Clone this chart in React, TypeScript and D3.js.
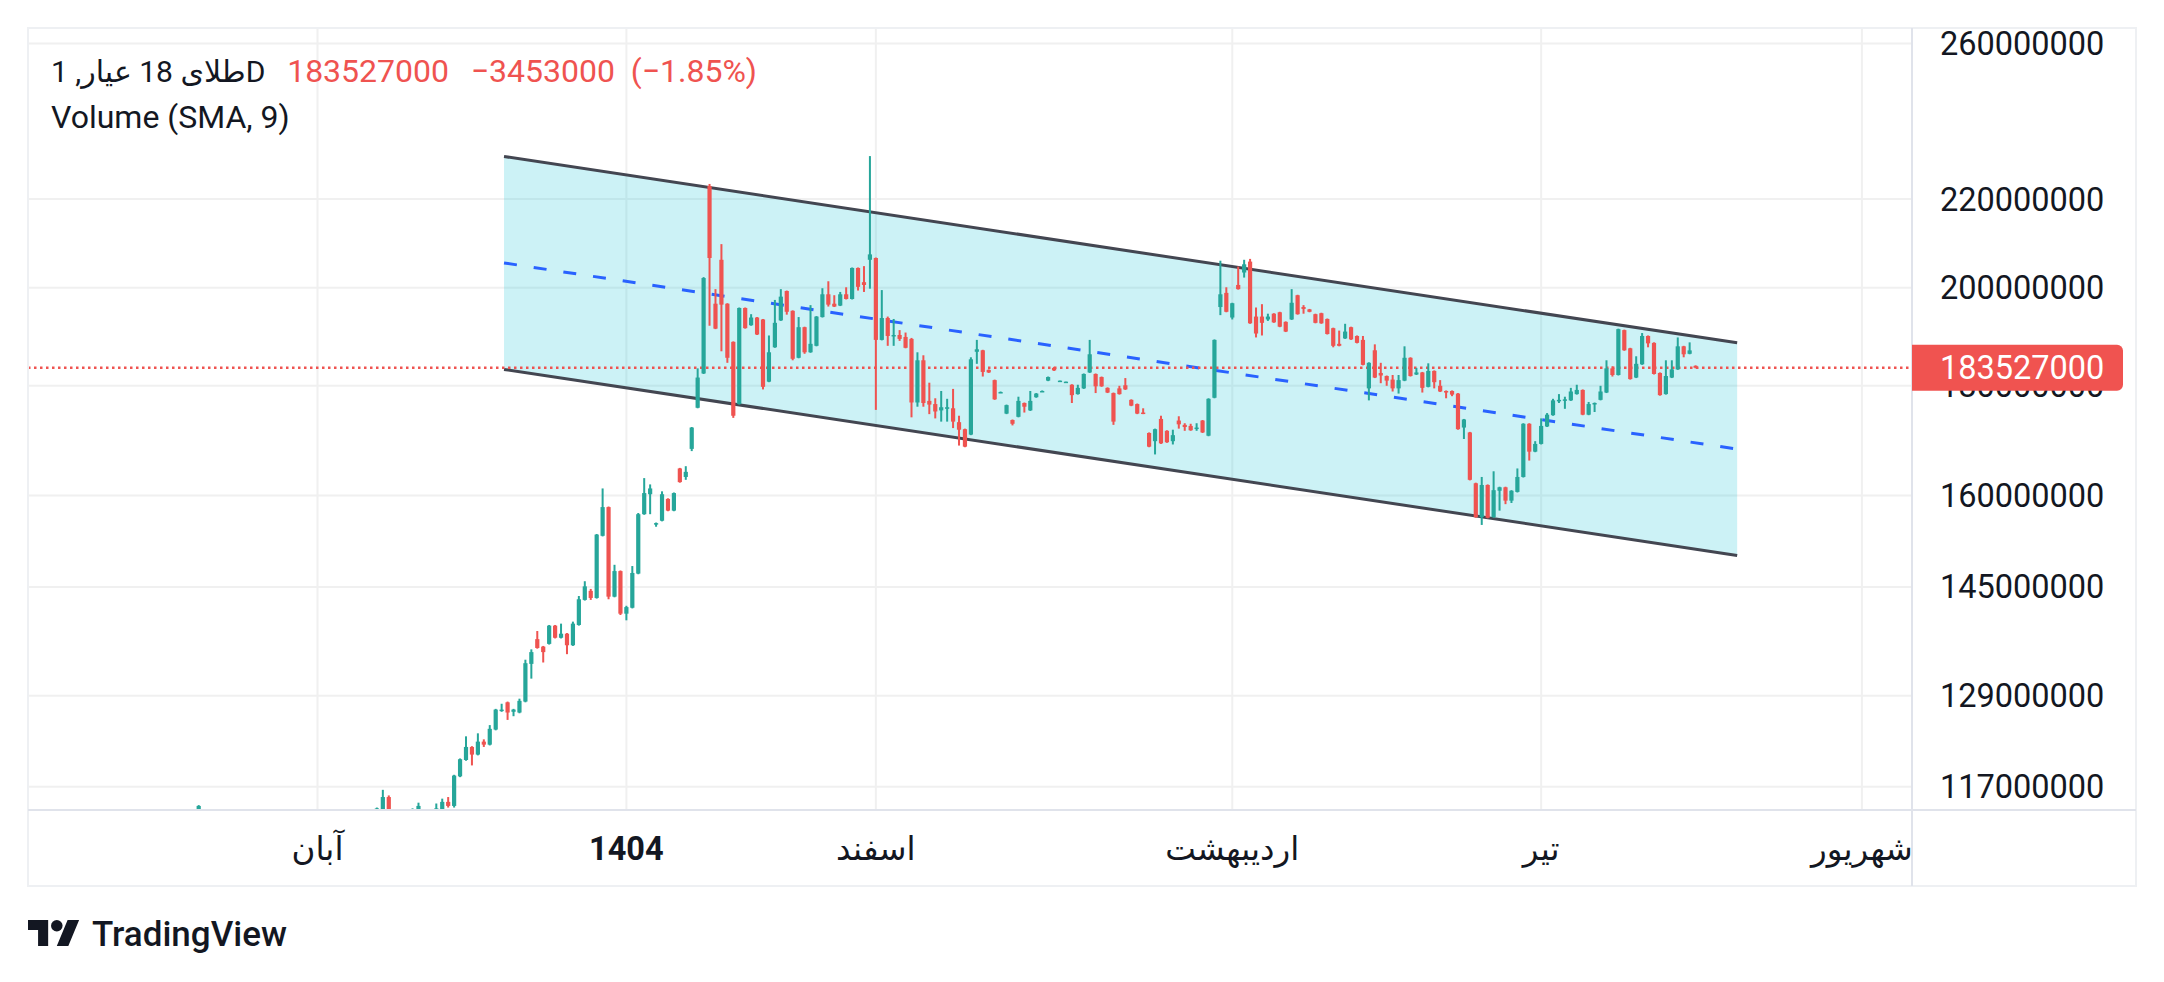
import * as d3 from 'd3';

const _ = null;

// daily bars, prices in millions of rials; "_" = bar lies wholly below the visible range
const open = [
  113.0, _, _, _, _, _, _, _, _, _,
  _, _, _, _, _, _, _, _, _, _,
  _, _, _, _, _, _, _, _, _, _,
  113.5, 113.8, 115.7, _, _, _, 113.8, 113.9, _, _,
  113.9, 113.9, 115.1, 114.6, 118.3, 120.4, 122.1, 121.1, 122.8, 122.4,
  124.4, 126.9, 128.1, 126.8, 126.7, 128.2, 133.5, 137.1, 136.0, 136.4,
  139.1, 137.3, 137.9, 136.2, 139.2, 143.0, 144.4, 143.3, 153.2, 158.0,
  143.5, 147.5, 140.9, 141.8, 147.1, 156.8, 160.2, 155.2, 155.7, 159.4,
  157.4, 164.7, 163.2, 168.2, 175.8, 182.4, 223.1, 196.6, 206.1, 196.6,
  188.7, 176.5, 195.7, 192.1, 193.7, 193.3, 180.8, 187.6, 193.1, 199.3,
  195.1, 185.5, 191.7, 186.6, 187.9, 193.8, 198.6, 196.6, 196.2, 198.6,
  197.6, 204.3, 201.2, 206.1, 206.5, 189.1, 193.6, 189.9, 190.1, 189.7,
  189.3, 176.8, 185.0, 177.1, 176.5, 175.3, 175.6, 175.7, 173.1, 171.8,
  170.8, 186.7, 187.0, 183.1, 181.1, 178.7, 174.7, 173.5, 174.1, 176.7,
  175.3, 177.8, 178.9, 181.0, 183.5, 180.9, 180.7, 180.2, 178.4, 179.5,
  182.6, 182.3, 181.7, 179.6, 178.6, 179.5, 180.1, 177.3, 176.5, 174.9,
  171.1, 169.6, 173.7, 171.5, 169.6, 173.4, 172.6, 172.4, 171.9, 173.4,
  170.6, 177.7, 195.9, 198.9, 193.7, 200.6, 203.3, 205.7, 193.9, 193.9,
  193.3, 194.5, 194.8, 192.8, 193.3, 198.4, 195.9, 195.4, 194.4, 194.6,
  193.4, 191.5, 188.3, 189.4, 191.7, 189.9, 189.1, 179.5, 187.0, 182.5,
  181.9, 181.2, 179.5, 181.0, 185.5, 182.2, 182.6, 179.8, 182.9, 180.0,
  179.0, 179.0, 178.5, 172.1, 171.2, 162.1, 156.3, 161.8, 156.3, 160.8,
  161.4, 159.1, 160.6, 163.2, 172.8, 167.7, 169.1, 172.3, 174.4, 177.2,
  177.3, 177.2, 178.4, 179.2, 174.5, 176.5, 177.3, 178.7, 183.4, 182.1,
  191.1, 187.4, 181.6, 184.2, 189.9, 188.5, 182.5, 178.4, 181.6, 183.2,
  187.8, 186.3, 183.9,
];
const high = [
  114.7, _, _, _, _, _, _, _, _, _,
  _, _, _, _, _, _, _, _, _, _,
  _, _, _, _, _, _, _, _, _, _,
  114.4, 116.6, 115.9, _, _, _, 114.3, 115.0, _, _,
  114.9, 115.5, 115.7, 118.5, 120.6, 123.5, 122.2, 123.9, 123.1, 125.0,
  127.2, 127.9, 128.2, 127.2, 128.6, 134.1, 135.6, 138.3, 136.1, 139.2,
  139.2, 139.4, 138.0, 139.7, 143.6, 145.9, 144.7, 153.5, 161.2, 158.1,
  148.5, 147.6, 142.1, 148.3, 157.0, 163.0, 161.9, 155.4, 160.7, 159.5,
  160.5, 164.8, 165.1, 172.2, 183.4, 202.3, 223.6, 199.7, 209.6, 196.7,
  188.8, 195.8, 195.8, 194.4, 193.8, 193.4, 190.0, 197.4, 199.7, 199.4,
  195.2, 193.8, 191.8, 196.3, 194.0, 199.9, 201.4, 198.4, 199.1, 200.1,
  204.4, 204.4, 204.7, 230.4, 206.6, 199.5, 193.9, 193.4, 191.1, 190.6,
  189.5, 186.6, 186.0, 180.6, 177.6, 179.0, 177.5, 179.4, 174.3, 171.9,
  185.6, 189.1, 187.1, 183.2, 181.2, 178.9, 176.4, 173.6, 177.9, 176.8,
  179.0, 178.6, 179.1, 181.8, 183.7, 181.0, 180.8, 180.3, 180.2, 182.4,
  189.1, 182.4, 181.8, 179.7, 178.7, 180.0, 181.5, 177.4, 176.6, 175.7,
  171.2, 171.9, 174.3, 171.6, 171.7, 174.2, 172.9, 172.8, 172.9, 173.5,
  177.6, 189.2, 205.9, 200.1, 196.8, 204.6, 206.1, 206.3, 195.8, 196.5,
  194.5, 194.6, 194.9, 192.9, 199.7, 198.5, 196.3, 195.5, 194.5, 194.7,
  193.5, 191.6, 191.0, 192.4, 191.8, 190.0, 189.9, 184.6, 188.2, 184.5,
  182.0, 182.1, 182.1, 187.8, 185.6, 183.5, 182.7, 184.4, 183.0, 181.1,
  179.1, 179.1, 178.6, 173.7, 171.3, 162.2, 163.2, 161.9, 164.2, 161.5,
  161.5, 160.9, 164.7, 172.9, 172.9, 169.6, 173.8, 174.8, 177.5, 178.4,
  177.9, 179.6, 180.2, 179.3, 176.9, 176.8, 180.0, 185.0, 183.8, 191.4,
  191.2, 187.5, 185.8, 190.5, 190.0, 188.6, 182.6, 185.0, 185.0, 189.6,
  187.9, 188.6, 184.0,
];
const low = [
  112.5, _, _, _, _, _, _, _, _, _,
  _, _, _, _, _, _, _, _, _, _,
  _, _, _, _, _, _, _, _, _, _,
  113.2, 113.5, 113.0, _, _, _, 113.5, 113.6, _, _,
  113.7, 113.7, 114.4, 114.4, 118.2, 120.3, 119.7, 121.0, 122.1, 122.3,
  124.3, 126.8, 125.7, 126.2, 126.6, 128.1, 131.4, 135.7, 133.7, 136.3,
  137.2, 137.2, 134.9, 136.1, 139.1, 142.9, 143.0, 143.2, 153.1, 143.1,
  143.4, 140.7, 139.9, 141.7, 147.0, 156.7, 156.8, 154.7, 155.6, 157.3,
  157.3, 162.2, 162.7, 167.8, 175.7, 182.3, 192.0, 191.3, 186.8, 184.5,
  173.9, 176.4, 191.4, 192.0, 190.1, 179.3, 180.7, 187.5, 193.0, 194.3,
  185.0, 185.4, 186.3, 186.5, 187.8, 193.7, 196.0, 195.9, 196.1, 197.5,
  197.5, 199.4, 199.1, 199.8, 175.4, 189.0, 187.9, 187.9, 188.9, 187.4,
  174.0, 176.0, 176.0, 174.6, 173.8, 173.2, 173.2, 172.0, 168.8, 168.5,
  170.7, 184.3, 181.8, 182.5, 177.3, 178.6, 174.6, 172.5, 174.0, 174.9,
  175.2, 177.7, 178.8, 180.9, 182.9, 180.9, 180.7, 176.7, 178.3, 179.4,
  182.5, 178.6, 179.8, 178.6, 172.6, 178.3, 179.2, 176.1, 174.6, 174.6,
  168.5, 167.2, 169.1, 169.3, 169.0, 171.9, 171.5, 171.5, 171.5, 171.1,
  170.5, 177.6, 194.2, 194.8, 193.3, 199.6, 202.2, 192.4, 189.6, 190.0,
  193.0, 192.6, 191.7, 190.7, 193.2, 194.3, 194.5, 194.8, 192.5, 192.4,
  190.2, 187.6, 187.8, 189.3, 189.1, 188.4, 184.0, 177.2, 181.5, 180.5,
  180.0, 178.9, 178.5, 180.9, 181.8, 182.1, 178.7, 179.7, 179.5, 178.8,
  177.6, 178.0, 171.7, 170.0, 162.6, 156.2, 155.0, 156.1, 156.2, 157.4,
  158.5, 158.7, 160.5, 163.1, 166.1, 167.6, 169.0, 172.2, 174.3, 176.7,
  175.6, 177.1, 178.3, 174.4, 174.4, 175.0, 177.2, 178.6, 181.8, 182.0,
  186.9, 181.2, 181.5, 184.1, 187.6, 182.2, 178.1, 178.3, 181.5, 183.1,
  185.6, 186.2, 183.4,
];
const close = [
  114.6, _, _, _, _, _, _, _, _, _,
  _, _, _, _, _, _, _, _, _, _,
  _, _, _, _, _, _, _, _, _, _,
  114.3, 115.7, 113.5, _, _, _, 114.2, 114.6, _, _,
  114.3, 115.1, 114.6, 118.4, 120.5, 122.1, 121.1, 122.8, 122.4, 124.5,
  127.1, 127.1, 126.7, 127.1, 128.3, 133.6, 135.2, 135.8, 135.2, 139.1,
  137.3, 137.9, 136.2, 139.4, 143.1, 145.1, 143.3, 153.4, 158.0, 143.5,
  147.5, 140.9, 141.9, 147.2, 156.8, 160.4, 161.2, 155.3, 160.2, 157.4,
  160.4, 162.3, 164.1, 172.1, 181.6, 202.1, 206.5, 191.4, 196.4, 185.5,
  174.3, 195.7, 191.5, 193.7, 190.2, 179.8, 186.6, 192.6, 198.1, 194.9,
  185.3, 191.7, 186.6, 188.3, 193.9, 198.6, 196.4, 196.0, 198.6, 197.6,
  204.3, 200.2, 200.6, 207.3, 189.1, 193.6, 189.9, 190.1, 189.3, 187.5,
  176.8, 185.0, 176.7, 176.4, 175.1, 175.9, 175.9, 173.2, 171.7, 168.6,
  185.2, 187.2, 182.7, 182.6, 177.4, 178.8, 176.3, 172.8, 177.1, 176.0,
  177.1, 178.5, 179.0, 181.7, 183.0, 181.0, 180.8, 178.2, 179.6, 182.3,
  186.2, 179.9, 179.9, 178.7, 173.2, 178.4, 179.3, 176.2, 174.7, 174.7,
  168.6, 171.8, 169.2, 169.4, 170.7, 172.7, 172.2, 171.6, 172.1, 171.2,
  177.5, 189.1, 198.6, 194.9, 196.7, 199.7, 205.1, 192.5, 190.4, 192.6,
  193.9, 192.7, 191.8, 190.8, 196.8, 194.4, 195.5, 194.9, 192.6, 192.5,
  190.3, 187.9, 187.9, 190.8, 189.2, 188.5, 184.1, 184.5, 181.6, 182.0,
  181.0, 179.5, 181.1, 185.5, 181.9, 182.6, 179.6, 182.9, 180.7, 178.9,
  178.7, 178.3, 171.8, 173.6, 162.7, 156.3, 161.8, 156.2, 160.9, 161.4,
  159.1, 160.8, 163.2, 172.8, 167.7, 169.1, 172.4, 174.5, 177.2, 177.3,
  177.4, 178.9, 179.2, 174.5, 176.5, 176.7, 178.9, 183.4, 182.1, 191.3,
  187.0, 181.3, 184.3, 189.9, 188.4, 182.3, 178.2, 181.9, 183.2, 187.8,
  186.2, 186.98, 183.527,
];

const yTicks = [117, 129, 145, 160, 180, 200, 220, 260];
const xTickBars = [20, 72, 114, 174, 226, 280];
const xTickLabels = ['آبان', '1404', 'اسفند', 'اردیبهشت', 'تیر', 'شهریور'];
const boldTick = '1404';

// parallel channel drawing: anchors (bar, price)
const channelBars = [51.4, 259];
const channelUpper = [230.3, 188.5];
const channelLower = [183.2, 150.0];

const title = 'طلای 18 عیار, 1D';
const indicator = 'Volume (SMA, 9)';

const W = 2164;
const H = 982;
const pane = { left: 28, top: 28, right: 1912, bottom: 810 };
const axisRight = 2136;
const axisBottom = 886;
const font = 'Roboto, "DejaVu Sans", sans-serif';
const up = '#26a69a';
const down = '#ef5350';
const ink = '#131722';
const grid = '#f0f0f0';

const fmt = (v: number) => d3.format('d')(Math.round(v * 1e6));

export default function App() {
  const x = d3.scaleLinear().domain([0, 280]).range([198.7, 1861.9]);
  const y = d3.scaleLog().domain([114.1, 264.4]).range([pane.bottom, pane.top]);

  const last = close[close.length - 1] as number;
  const prev = close[close.length - 2] as number;
  const change = last - prev;
  const pct = (change / prev) * 100;
  const minus = (v: number) => (v < 0 ? '\u2212' : '') + Math.abs(v);

  const bars = open
    .map((o, i) => ({ i, o, h: high[i], l: low[i], c: close[i] }))
    .filter((b) => b.o != null);

  const ux = channelBars.map((b) => x(b));
  const uy = channelUpper.map((p) => y(p));
  const ly = channelLower.map((p) => y(p));
  const my = [0, 1].map((k) => (uy[k] + ly[k]) / 2);

  const priceY = y(last);

  return (
    <svg
      width={W}
      height={H}
      style={{ position: 'absolute', left: 0, top: 0, background: '#fff' }}
      fontFamily={font}
    >
      <defs>
        <clipPath id="pane">
          <rect x={pane.left} y={pane.top} width={pane.right - pane.left} height={pane.bottom - pane.top} />
        </clipPath>
      </defs>
      <rect width={W} height={H} fill="#fff" />

      {/* grid */}
      {yTicks.map((t) => (
        <line key={'gy' + t} x1={pane.left} x2={pane.right} y1={y(t)} y2={y(t)} stroke={grid} strokeWidth={2} />
      ))}
      {xTickBars.map((b) => (
        <line key={'gx' + b} x1={x(b)} x2={x(b)} y1={pane.top} y2={pane.bottom} stroke={grid} strokeWidth={2} />
      ))}

      {/* channel */}
      <g clipPath="url(#pane)">
        <polygon
          points={`${ux[0]},${uy[0]} ${ux[1]},${uy[1]} ${ux[1]},${ly[1]} ${ux[0]},${ly[0]}`}
          fill="#00bcd4"
          fillOpacity={0.2}
        />
        <line x1={ux[0]} y1={my[0]} x2={ux[1]} y2={my[1]} stroke="#2962ff" strokeWidth={3} strokeDasharray="13 17" />
        <line x1={ux[0]} y1={uy[0]} x2={ux[1]} y2={uy[1]} stroke="#434651" strokeWidth={3} />
        <line x1={ux[0]} y1={ly[0]} x2={ux[1]} y2={ly[1]} stroke="#434651" strokeWidth={3} />

        <line x1={pane.left} x2={pane.right} y1={priceY} y2={priceY} stroke={down} strokeWidth={2.5} strokeDasharray="2.5 3.5" />

        {bars.map((b) => {
          const cx = x(b.i);
          const col = (b.c as number) >= (b.o as number) ? up : down;
          const top = y(Math.max(b.o as number, b.c as number));
          const bot = y(Math.min(b.o as number, b.c as number));
          return (
            <g key={b.i}>
              <rect x={cx - 1} y={y(b.h as number)} width={2} height={y(b.l as number) - y(b.h as number)} fill={col} />
              <rect x={cx - 2.1} y={top} width={4.2} height={Math.max(1.5, bot - top)} fill={col} />
            </g>
          );
        })}
      </g>

      {/* frame */}
      <rect x={pane.left} y={pane.top} width={axisRight - pane.left} height={axisBottom - pane.top} fill="none" stroke="#eef0f3" strokeWidth={2} />
      <line x1={pane.right} x2={pane.right} y1={pane.top} y2={axisBottom} stroke="#e0e3eb" strokeWidth={2} />
      <line x1={pane.left} x2={axisRight} y1={pane.bottom} y2={pane.bottom} stroke="#e0e3eb" strokeWidth={2} />

      {/* price axis */}
      {yTicks.map((t) => (
        <text key={'ly' + t} x={1940} y={y(t) + 11.5} fontSize={32.5} fill={ink}>
          {fmt(t)}
        </text>
      ))}
      <path
        d={`M${pane.right},${priceY - 23} H${2117} a6,6 0 0 1 6,6 V${priceY + 17} a6,6 0 0 1 -6,6 H${pane.right} Z`}
        fill="#f05350"
      />
      <text x={1940} y={priceY + 11.5} fontSize={32.5} fill="#fff">
        {fmt(last)}
      </text>

      {/* time axis */}
      {xTickBars.map((b, k) => (
        <text
          key={'lx' + b}
          x={x(b)}
          y={860}
          fontSize={32.5}
          fill={ink}
          textAnchor="middle"
          fontWeight={xTickLabels[k] === boldTick ? 700 : 400}
        >
          {xTickLabels[k]}
        </text>
      ))}

      {/* legend */}
      <text x={51} y={82} fontSize={30} fill={ink}>{title}</text>
      <text x={449} y={82} fontSize={32} fill={down} textAnchor="end">{fmt(last)}</text>
      <text x={615} y={82} fontSize={32} fill={down} textAnchor="end">{minus(Math.round(change * 1e6))}</text>
      <text x={757} y={82} fontSize={32} fill={down} textAnchor="end">{'(' + minus(+pct.toFixed(2)) + '%)'}</text>
      <text x={51} y={128} fontSize={32} fill={ink}>{indicator}</text>

      {/* brand */}
      <g transform="translate(28,914.2) scale(1.44)" fill={ink}>
        <path d="M14 22H7V11H0V4h14v18zM28 22h-8l7.5-18h8L28 22z" />
        <circle cx={20} cy={8} r={4} />
      </g>
      <text x={92} y={946} fontSize={35} fontWeight={500} fill={ink}>TradingView</text>
    </svg>
  );
}
